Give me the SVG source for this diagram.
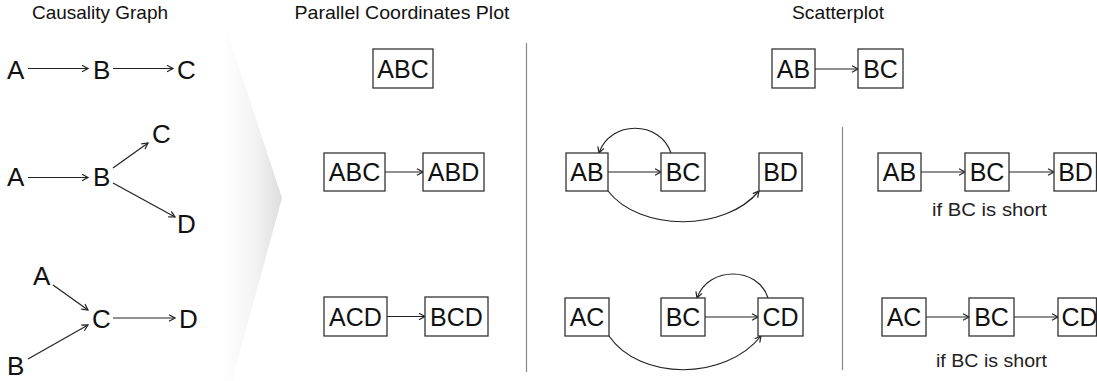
<svg xmlns="http://www.w3.org/2000/svg" width="1097" height="381" viewBox="0 0 1097 381">
<defs>
<linearGradient id="chev" gradientUnits="userSpaceOnUse" x1="222" y1="0" x2="283" y2="0">
<stop offset="0" stop-color="#ffffff"/>
<stop offset="0.55" stop-color="#f3f3f4"/>
<stop offset="1" stop-color="#dcdcde"/>
</linearGradient>
<marker id="ah" markerUnits="userSpaceOnUse" markerWidth="10" markerHeight="10" refX="7" refY="4" orient="auto">
<path d="M1,0.8 L7,4 L1,7.2" fill="none" stroke="#222" stroke-width="1.2"/>
</marker>
<style>
.t{font-family:"Liberation Sans",Arial,Helvetica,sans-serif;fill:#111;}
.title{font-size:18.5px;text-anchor:middle;}
.lbl{font-size:26px;}
.bl{font-size:25px;text-anchor:middle;}
.note{font-size:18px;text-anchor:middle;fill:#222;}
.box{fill:#fff;stroke:#333;stroke-width:1.3;}
.c{fill:none;stroke:#222;stroke-width:1.2;marker-end:url(#ah);}
.div{stroke:#888;stroke-width:1.2;}
</style>
</defs>
<rect width="1097" height="381" fill="#fff"/>
<polygon points="200,28 226,28 282,198 232,381 200,381" fill="url(#chev)"/>
<g id="titles">
<text class="t title" x="100" y="19" textLength="136" lengthAdjust="spacingAndGlyphs">Causality Graph</text>
<text class="t title" x="402" y="19" textLength="215" lengthAdjust="spacingAndGlyphs">Parallel Coordinates Plot</text>
<text class="t title" x="838" y="19" textLength="92" lengthAdjust="spacingAndGlyphs">Scatterplot</text>
</g>
<g id="dividers">
<line class="div" x1="526.5" y1="43" x2="526.5" y2="372"/>
<line class="div" x1="842.5" y1="127" x2="842.5" y2="370"/>
</g>
<g id="connectors">
<line class="c" x1="28" y1="68.5" x2="88" y2="68.5"/>
<line class="c" x1="113" y1="68.5" x2="173" y2="68.5"/>
<line class="c" x1="28" y1="177.5" x2="88" y2="177.5"/>
<line class="c" x1="113" y1="168" x2="148" y2="143"/>
<line class="c" x1="113" y1="183" x2="175" y2="217"/>
<line class="c" x1="53" y1="285" x2="88" y2="310"/>
<line class="c" x1="28" y1="359" x2="88" y2="325"/>
<line class="c" x1="113" y1="318" x2="175" y2="318"/>
<line class="c" x1="385" y1="172" x2="423" y2="172"/>
<line class="c" x1="387" y1="316.5" x2="425" y2="316.5"/>
<line class="c" x1="815" y1="69" x2="858" y2="69"/>
<line class="c" x1="608" y1="172" x2="661" y2="172"/>
<path class="c" d="M671,153 C660,120 610,120 599,153"/>
<path class="c" d="M608,191 C640,232 725,232 759,191"/>
<line class="c" x1="705" y1="317" x2="758" y2="317"/>
<path class="c" d="M768,298 C758,266 708,266 697,298"/>
<path class="c" d="M609,336 C640,381 725,381 761,336"/>
<line class="c" x1="921" y1="172" x2="965" y2="172"/>
<line class="c" x1="1009" y1="172" x2="1054" y2="172"/>
<line class="c" x1="926" y1="317" x2="969" y2="317"/>
<line class="c" x1="1014" y1="317" x2="1058" y2="317"/>
</g>
<g id="cg1-A"><text class="t lbl" x="7" y="79">A</text></g>
<g id="cg1-B"><text class="t lbl" x="93" y="79">B</text></g>
<g id="cg1-C"><text class="t lbl" x="177" y="79">C</text></g>
<g id="cg2-A"><text class="t lbl" x="7" y="186">A</text></g>
<g id="cg2-B"><text class="t lbl" x="93" y="186">B</text></g>
<g id="cg2-C"><text class="t lbl" x="152" y="143">C</text></g>
<g id="cg2-D"><text class="t lbl" x="177" y="233">D</text></g>
<g id="cg3-A"><text class="t lbl" x="33" y="285">A</text></g>
<g id="cg3-C"><text class="t lbl" x="92" y="328">C</text></g>
<g id="cg3-D"><text class="t lbl" x="179" y="328">D</text></g>
<g id="cg3-B"><text class="t lbl" x="7" y="375">B</text></g>
<g id="pcp1-ABC"><rect class="box" x="373" y="49" width="60" height="39"/><text class="t bl" x="403" y="78">ABC</text></g>
<g id="pcp2-ABC"><rect class="box" x="324" y="153" width="61" height="38"/><text class="t bl" x="354.5" y="181">ABC</text></g>
<g id="pcp2-ABD"><rect class="box" x="423" y="153" width="61" height="38"/><text class="t bl" x="453.5" y="181">ABD</text></g>
<g id="pcp3-ACD"><rect class="box" x="324" y="297" width="63" height="39"/><text class="t bl" x="355.5" y="325.5">ACD</text></g>
<g id="pcp3-BCD"><rect class="box" x="425" y="297" width="63" height="39"/><text class="t bl" x="456.5" y="325.5">BCD</text></g>
<g id="sp1-AB"><rect class="box" x="772" y="49" width="43" height="39"/><text class="t bl" x="793.5" y="78">AB</text></g>
<g id="sp1-BC"><rect class="box" x="858" y="49" width="45" height="39"/><text class="t bl" x="880.5" y="78">BC</text></g>
<g id="sp2-AB"><rect class="box" x="566" y="153" width="42" height="38"/><text class="t bl" x="587" y="181">AB</text></g>
<g id="sp2-BC"><rect class="box" x="661" y="153" width="44" height="38"/><text class="t bl" x="683" y="181">BC</text></g>
<g id="sp2-BD"><rect class="box" x="759" y="153" width="43" height="38"/><text class="t bl" x="780.5" y="181">BD</text></g>
<g id="sp3-AC"><rect class="box" x="565" y="298" width="44" height="38"/><text class="t bl" x="587" y="326">AC</text></g>
<g id="sp3-BC"><rect class="box" x="661" y="298" width="44" height="38"/><text class="t bl" x="683" y="326">BC</text></g>
<g id="sp3-CD"><rect class="box" x="758" y="298" width="45" height="38"/><text class="t bl" x="780.5" y="326">CD</text></g>
<g id="r1-AB"><rect class="box" x="878" y="153" width="43" height="38"/><text class="t bl" x="899.5" y="181">AB</text></g>
<g id="r1-BC"><rect class="box" x="965" y="153" width="44" height="38"/><text class="t bl" x="987" y="181">BC</text></g>
<g id="r1-BD"><rect class="box" x="1054" y="153" width="42.5" height="38"/><text class="t bl" x="1075.5" y="181">BD</text></g>
<g id="r1-note"><text class="t note" x="989.5" y="216" textLength="115" lengthAdjust="spacingAndGlyphs">if BC is short</text></g>
<g id="r2-AC"><rect class="box" x="882" y="298" width="44" height="38"/><text class="t bl" x="904" y="326">AC</text></g>
<g id="r2-BC"><rect class="box" x="969" y="298" width="45" height="38"/><text class="t bl" x="991.5" y="326">BC</text></g>
<g id="r2-CD"><rect class="box" x="1058" y="298" width="38.5" height="38"/><text class="t bl" x="1079.5" y="326">CD</text></g>
<g id="r2-note"><text class="t note" x="991.5" y="367" textLength="111" lengthAdjust="spacingAndGlyphs">if BC is short</text></g>
</svg>
